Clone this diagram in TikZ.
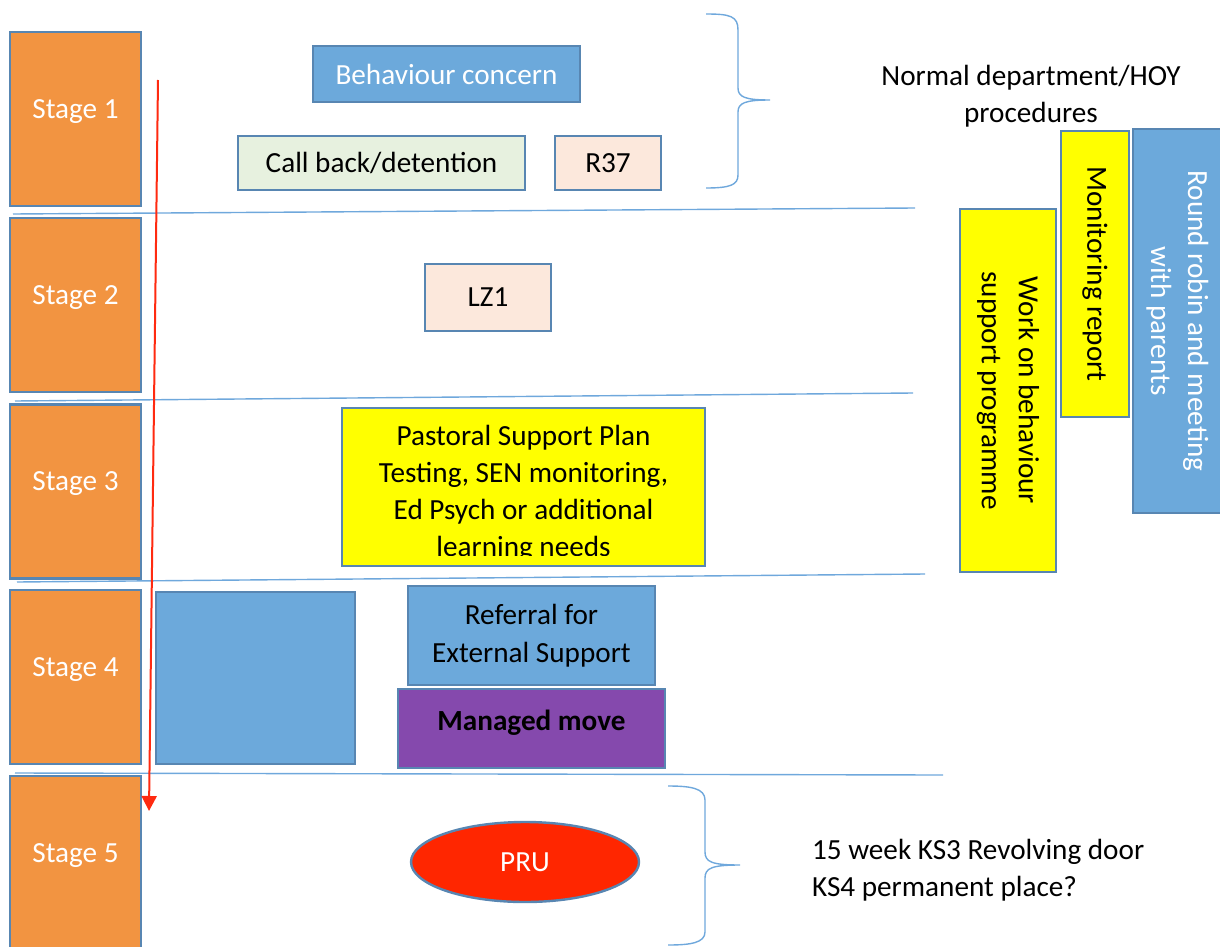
\documentclass[tikz,border=0pt]{standalone}
\usepackage{fontspec}
\setmainfont{Carlito}
\usetikzlibrary{arrows.meta,shapes.geometric}
\definecolor{stageorange}{RGB}{242,148,65}
\definecolor{boxedge}{RGB}{88,134,178}
\definecolor{boxblue}{RGB}{108,169,219}
\definecolor{boxgreen}{RGB}{231,241,223}
\definecolor{boxpeach}{RGB}{252,232,220}
\definecolor{boxpurple}{RGB}{133,73,173}
\definecolor{prured}{RGB}{255,38,0}
\definecolor{sepblue}{RGB}{111,168,220}
\definecolor{arrowred}{RGB}{255,42,16}
\definecolor{boxyellow}{RGB}{255,255,0}
\tikzset{
  every node/.style={font=\fontsize{14.6}{18.5}\selectfont},
  plainbox/.style={rectangle, draw=boxedge, line width=1.2pt, inner sep=2pt, align=center},
  stagebox/.style={plainbox, fill=stageorange, text=white, minimum width=65.5pt, minimum height=87pt, text depth=10pt},
  sideways/.style={plainbox, rotate=-90},
  sepline/.style={draw=sepblue, line width=0.7pt},
  bracket/.style={draw=sepblue, line width=0.7pt}
}
\begin{document}
\begin{tikzpicture}[x=0.5pt, y=-0.5pt]
\useasboundingbox (0,0) rectangle (1220,947);
\node[stagebox] (stage1) at (75.5,119){Stage 1};
\node[stagebox] (stage2) at (75.5,305){Stage 2};
\node[stagebox] (stage3) at (75.5,491.5){Stage 3};
\node[stagebox] (stage4) at (75.5,677){Stage 4};
\node[stagebox] (stage5) at (75.5,863){Stage 5};
\draw[sepline] (13,214) -- (915,208);
\draw[sepline] (15,401) -- (913,393);
\draw[sepline] (17,582) -- (925,574);
\draw[sepline] (15,773) -- (943,775);
\node[plainbox, fill=boxblue, text=white, minimum width=133.5pt, minimum height=28pt] (concern) at (446.5,74){Behaviour concern};
\node[plainbox, fill=boxgreen, minimum width=143.5pt, minimum height=27pt] (callback) at (381.5,163){Call back/detention};
\node[plainbox, fill=boxpeach, minimum width=53pt, minimum height=27pt] (rform) at (608,163){R37};
\draw[bracket] (706,14) .. controls (730,14) and (738,16) .. (738,30) -- (738,88) .. controls (738,97) and (745,100) .. (770,100) .. controls (745,100) and (738,103) .. (738,112) -- (738,175) .. controls (738,185) and (730,188) .. (706,188);
\node[align=center] (normal) at (1031,96){Normal department/HOY\\procedures};
\node[plainbox, fill=boxpeach, minimum width=63pt, minimum height=33.5pt] (lzform) at (488,297.5){LZ1};
\node[plainbox, fill=boxyellow, minimum width=181.5pt, minimum height=79pt] (pastoral) at (523.5,487){};
\begin{scope}
\clip (342,408) rectangle (705,555);
\node[align=center, text depth=0pt] (pastoraltext) at (523.5,491){Pastoral Support Plan\\Testing, SEN monitoring,\\Ed Psych or additional\\learning needs};
\end{scope}
\node[plainbox, fill=boxblue, minimum width=99.5pt, minimum height=86pt] (blank) at (255.5,678){};
\node[plainbox, fill=boxblue, minimum width=123.5pt, minimum height=49.5pt, font=\fontsize{14.6}{19}\selectfont] (referral) at (531.5,635.5){Referral for\\External Support};
\node[plainbox, fill=boxpurple, minimum width=133.5pt, minimum height=39.5pt, text depth=8pt, font=\fontsize{14.6}{18.5}\selectfont\bfseries] (managed) at (531.5,728.5){Managed move};
\node[ellipse, draw=boxedge, line width=1.2pt, fill=prured, text=white, minimum width=114pt, minimum height=40pt] (pru) at (525,862){PRU};
\draw[bracket] (668,786) .. controls (690,786) and (705,788) .. (705,800) -- (705,852) .. controls (705,862) and (712,865) .. (740,865) .. controls (712,865) and (705,868) .. (705,878) -- (705,932) .. controls (705,943) and (690,945) .. (668,945);
\node[align=left, anchor=west] (revolving) at (805,870){15 week KS3 Revolving door\\KS4 permanent place?};
\node[sideways, fill=boxyellow, minimum width=181.5pt, minimum height=48pt] (workon) at (1008,390.5){Work on behaviour\\support programme};
\node[sideways, fill=boxyellow, minimum width=143pt, minimum height=34pt] (monitor) at (1095,274){Monitoring report};
\node[sideways, fill=boxblue, text=white, minimum width=192pt, minimum height=44.5pt] (roundrobin) at (1177.5,321){Round robin and meeting\\with parents};
\coordinate (arrowtop) at (158,80);
\coordinate (arrowtip) at (149,811);
\draw[arrowred, line width=1pt, -{Triangle[width=7.5pt,length=7.5pt]}] (arrowtop) -- (arrowtip);
\end{tikzpicture}
\end{document}
